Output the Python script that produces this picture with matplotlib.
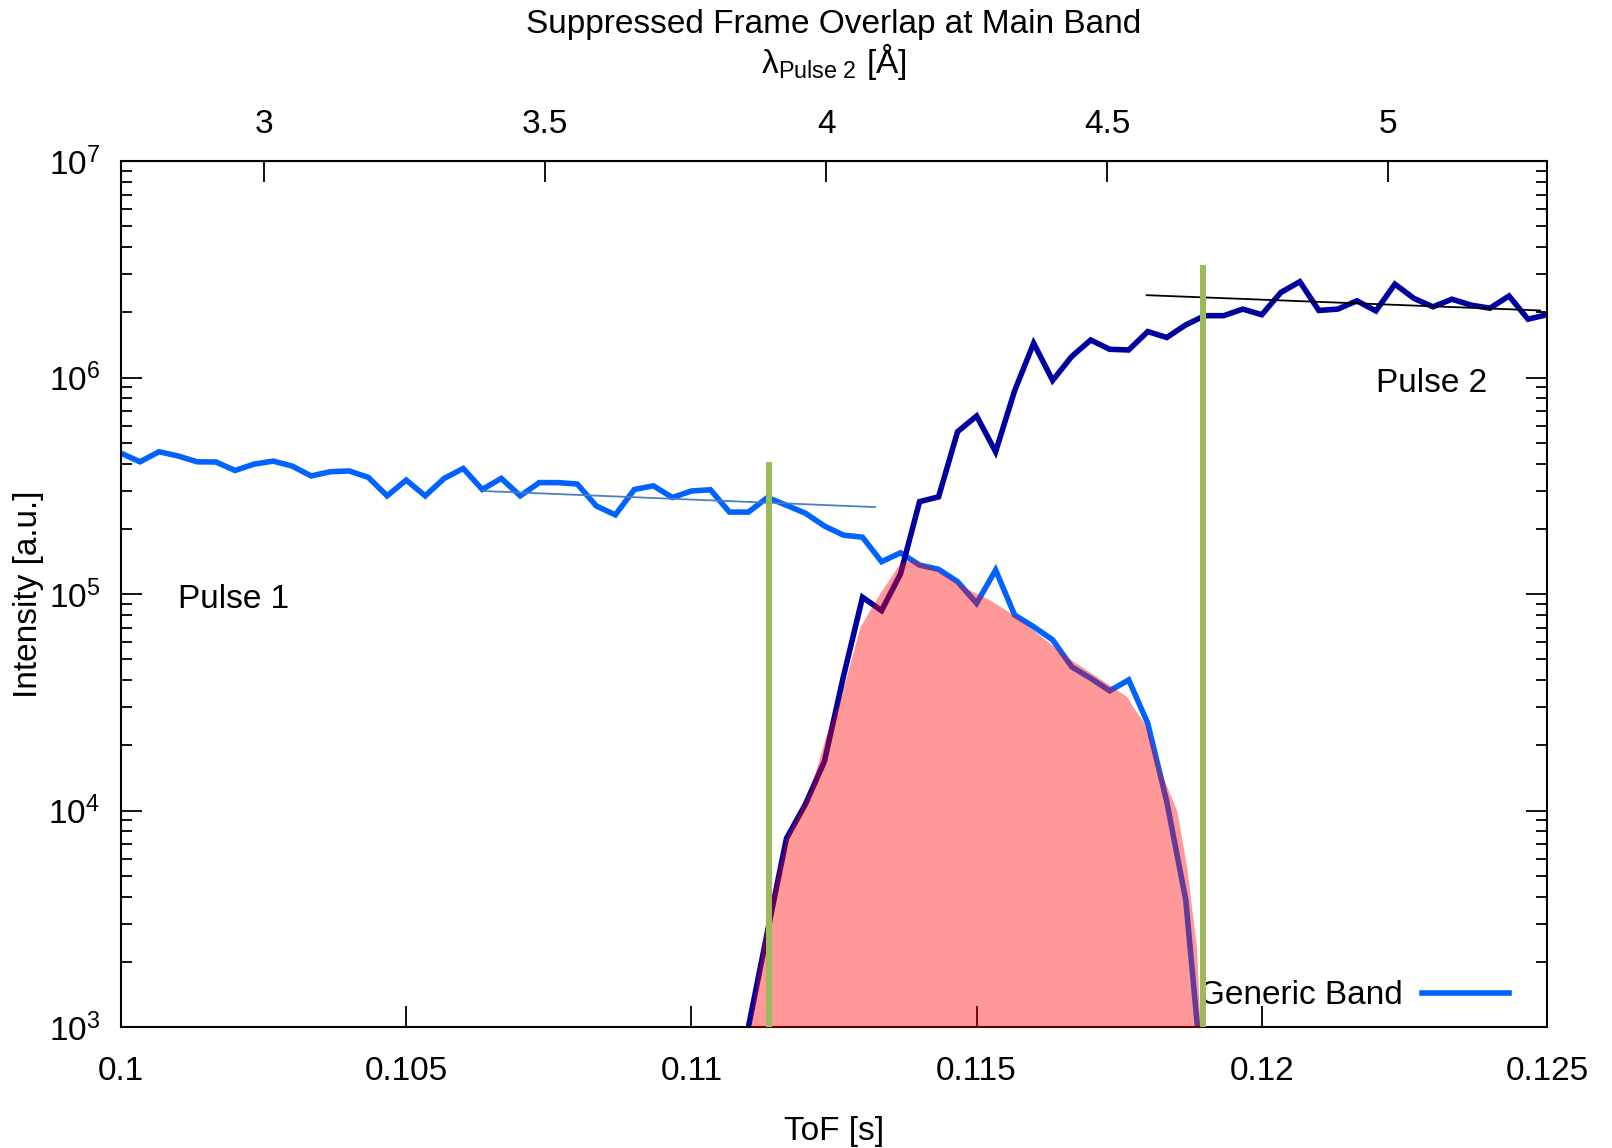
import numpy as np
import matplotlib
matplotlib.use('Agg')
import matplotlib.pyplot as plt
from matplotlib.ticker import LogLocator, NullFormatter, LogFormatterMathtext

plt.rcParams['font.family'] = ['Liberation Sans', 'DejaVu Sans']
plt.rcParams['mathtext.fontset'] = 'custom'
plt.rcParams['mathtext.rm'] = 'Liberation Sans'
plt.rcParams['mathtext.it'] = 'Liberation Sans:italic'
plt.rcParams['mathtext.bf'] = 'Liberation Sans:bold'
plt.rcParams['font.size'] = 24

# -- data --
# ToF bins are 1/3000 s wide, starting at 0.1 s
bin_width = 1 / 3000
pulse1_first_bin = 0
pulse2_first_bin = 33

# pulse 1 (light blue), intensity in a.u.
pulse1 = [4.47e5, 4.08e5, 4.54e5, 4.34e5, 4.08e5, 4.07e5, 3.72e5, 3.98e5, 4.11e5, 3.90e5,
          3.51e5, 3.67e5, 3.70e5, 3.46e5, 2.84e5, 3.36e5, 2.84e5, 3.42e5, 3.80e5, 3.04e5,
          3.42e5, 2.84e5, 3.27e5, 3.27e5, 3.22e5, 2.55e5, 2.32e5, 3.04e5, 3.16e5, 2.79e5,
          2.99e5, 3.03e5, 2.39e5, 2.39e5, 2.79e5, 2.57e5, 2.36e5, 2.06e5, 1.87e5, 1.83e5,
          1.41e5, 1.55e5, 1.36e5, 1.30e5, 1.14e5, 9.06e4, 1.29e5, 8.00e4, 7.06e4, 6.14e4,
          4.61e4, 4.08e4, 3.57e4, 4.01e4, 2.53e4, 1.10e4, 3.86e3, 4.3e2]

# pulse 2 (dark blue)
pulse2 = [1.0e3, 2.75e3, 7.43e3, 1.07e4, 1.69e4, 4.17e4, 9.66e4, 8.38e4, 1.24e5, 2.67e5,
          2.81e5, 5.62e5, 6.64e5, 4.54e5, 8.69e5, 1.44e6, 9.70e5, 1.25e6, 1.49e6, 1.35e6,
          1.34e6, 1.63e6, 1.53e6, 1.75e6, 1.93e6, 1.93e6, 2.07e6, 1.95e6, 2.47e6, 2.77e6,
          2.04e6, 2.07e6, 2.26e6, 2.03e6, 2.70e6, 2.32e6, 2.12e6, 2.30e6, 2.16e6, 2.09e6,
          2.38e6, 1.86e6, 1.95e6]

# generic band (filled area)
band_tof = [0.111027, 0.111320, 0.111671, 0.112079, 0.112372, 0.112605, 0.112956, 0.113306,
            0.113657, 0.113885, 0.114236, 0.114827, 0.115235, 0.115703, 0.116580, 0.117632,
            0.117742, 0.117982, 0.118215, 0.118508, 0.118683, 0.118859, 0.118917]
band_int = [1.0e3, 3.24e3, 7.57e3, 1.24e4, 2.28e4, 3.24e4, 7.06e4, 1.01e5, 1.39e5, 1.44e5,
            1.32e5, 1.06e5, 9.38e4, 7.85e4, 5.13e4, 3.36e4, 3.01e4, 2.44e4, 1.54e4, 1.0e4,
            5.50e3, 2.27e3, 1.0e3]

# straight-line fits
fit1_tof = [0.10635, 0.11322]
fit1_int = [2.99e5, 2.52e5]
fit2_tof = [0.117982, 0.124877]
fit2_int = [2.40e6, 2.04e6]

# chopper cut positions (green) and their heights
cut_tof = [0.11136, 0.118975]
cut_top = [4.08e5, 3.31e6]

tof_ticks = [0.1, 0.105, 0.11, 0.115, 0.12, 0.125]
tof_labels = ['0.1', '0.105', '0.11', '0.115', '0.12', '0.125']
lam_ticks = [3, 3.5, 4, 4.5, 5]
lam_labels = ['3', '3.5', '4', '4.5', '5']

# wavelength of pulse 2 vs ToF (linear)
lam_ref_tof = 0.112365   # ToF where lambda = 4 A
lam_slope = 101.5        # A per s

tof1 = 0.1 + (pulse1_first_bin + np.arange(len(pulse1))) * bin_width
tof2 = 0.1 + (pulse2_first_bin + np.arange(len(pulse2))) * bin_width

fig = plt.figure(figsize=(16.12, 11.48), dpi=100)
ax = fig.add_axes([121 / 1612, 1 - 1027 / 1148, 1426 / 1612, 866 / 1148])

ax.plot(tof1, pulse1, color='#0062ff', lw=4, zorder=2, solid_joinstyle='miter', label='Generic Band')
ax.plot(tof2, pulse2, color='#0000a0', lw=4, zorder=2.5, solid_joinstyle='miter')
ax.plot(fit1_tof, fit1_int, color='#4a7fc0', lw=1.3, zorder=3)
ax.plot(fit2_tof, fit2_int, color='black', lw=1.3, zorder=3)
ax.fill_between(band_tof, band_int, 1e2, color='red', alpha=0.4, lw=0, zorder=4)
ax.vlines(cut_tof, 1e2, cut_top, color='#9bbb59', lw=4.3, zorder=5)

ax.text(0.10198, 9.4e4, 'Pulse 1', ha='center', va='center')
ax.text(0.12297, 9.4e5, 'Pulse 2', ha='center', va='center')

ax.set_yscale('log')
ax.set_xlim(0.1, 0.125)
ax.set_ylim(1e3, 1e7)
ax.set_xticks(tof_ticks, tof_labels)
ax.yaxis.set_major_formatter(LogFormatterMathtext())
ax.yaxis.set_minor_locator(LogLocator(base=10, subs=np.arange(2, 10), numticks=20))
ax.yaxis.set_minor_formatter(NullFormatter())
ax.tick_params(axis='x', which='both', direction='in', top=False, bottom=True,
               length=15, width=1.3, pad=21)
ax.tick_params(axis='y', which='major', direction='in', left=True, right=True,
               length=15, width=1.3, pad=15)
ax.tick_params(axis='y', which='minor', direction='in', left=True, right=True,
               length=8, width=1.3)
for s in ax.spines.values():
    s.set_linewidth(1.5)

ax.set_xlabel('ToF [s]', labelpad=21)
ax.set_ylabel('Intensity [a.u.]', labelpad=3)

sec = ax.secondary_xaxis('top', functions=(lambda t: 4 + (t - lam_ref_tof) * lam_slope,
                                           lambda l: lam_ref_tof + (l - 4) / lam_slope))
sec.set_xticks(lam_ticks, lam_labels)
sec.tick_params(direction='in', length=15, width=1.3, pad=15)
sec.set_xlabel(r'λ$_{\mathrm{Pulse\ 2}}$ [Å]', labelpad=26)

leg = ax.legend(loc='lower right', bbox_to_anchor=(0.9734, 0.018), frameon=False,
                markerfirst=False, handlelength=2.6, handletextpad=0.6,
                borderpad=0, borderaxespad=0)
leg.set_zorder(1)

fig.text(834 / 1612, 1 - 24 / 1148, 'Suppressed Frame Overlap at Main Band',
         ha='center', va='center')

fig.savefig('out.png', dpi=100)
